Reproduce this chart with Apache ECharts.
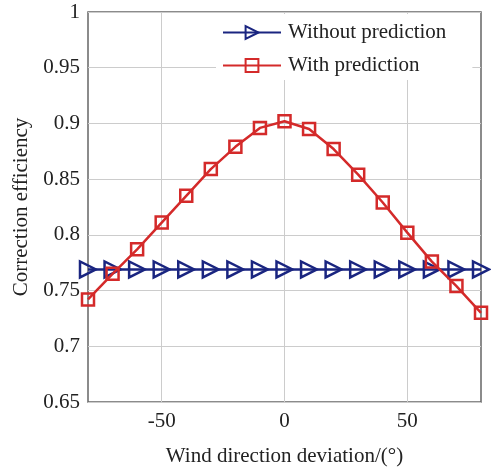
<!DOCTYPE html>
<html>
<head>
<meta charset="utf-8">
<script src="https://cdn.jsdelivr.net/npm/echarts@6/dist/echarts.min.js"></script>
<style>
  html, body { margin: 0; padding: 0; background: #fff; }
  #main { width: 491px; height: 472px; }
</style>
</head>
<body>
<div id="main"></div>
<script>
var deviation = [-80, -70, -60, -50, -40, -30, -20, -10, 0, 10, 20, 30, 40, 50, 60, 70, 80];
var withoutPred = [0.769, 0.769, 0.769, 0.769, 0.769, 0.769, 0.769, 0.769, 0.769, 0.769, 0.769, 0.769, 0.769, 0.769, 0.769, 0.769, 0.769];
var withPred = [0.742, 0.765, 0.787, 0.811, 0.835, 0.859, 0.879, 0.896, 0.902, 0.895, 0.877, 0.854, 0.829, 0.802, 0.776, 0.754, 0.730];
var xTicks = [-50, 0, 50];

var font = '"Liberation Serif", "DejaVu Serif", serif';
var blue = '#1a2580';
var red = '#d42a2a';

function pairs(ys) {
    return deviation.map(function (x, i) { return [x, ys[i]]; });
}

var chart = echarts.init(document.getElementById('main'));
var option = {
    animation: false,
    grid: {
        left: 88, right: 10, top: 12, bottom: 69,
        show: true,
        borderColor: '#666',
        borderWidth: 1.5
    },
    legend: {
        orient: 'vertical',
        left: 216,
        top: 14,
        itemWidth: 58,
        itemHeight: 16,
        itemGap: 12,
        padding: [8, 26, 4, 6],
        backgroundColor: '#fff',
        textStyle: { fontFamily: font, fontSize: 21, color: '#222', padding: [0, 0, 0, 2] },
        data: ['Without prediction', 'With prediction']
    },
    xAxis: {
        type: 'value',
        min: -80,
        max: 80,
        name: 'Wind direction deviation/(°)',
        nameLocation: 'middle',
        nameGap: 44,
        nameTextStyle: { fontFamily: font, fontSize: 21, color: '#222' },
        axisLine: { show: false },
        axisTick: { show: false, customValues: xTicks },
        axisLabel: { customValues: xTicks, fontFamily: font, fontSize: 21, color: '#222', margin: 9 },
        splitLine: { show: true, lineStyle: { color: '#ccc', width: 1 } }
    },
    yAxis: {
        type: 'value',
        min: 0.65,
        max: 1,
        interval: 0.05,
        name: 'Correction efficiency',
        nameLocation: 'middle',
        nameGap: 47,
        nameTextStyle: { fontFamily: font, fontSize: 21, color: '#222' },
        axisLine: { show: false },
        axisTick: { show: false },
        axisLabel: { fontFamily: font, fontSize: 21, color: '#222', margin: 8 },
        splitLine: { show: true, lineStyle: { color: '#ccc', width: 1 } }
    },
    series: [
        {
            name: 'Without prediction',
            type: 'line',
            data: pairs(withoutPred),
            symbol: 'triangle',
            symbolRotate: -90,
            symbolSize: 16,
            lineStyle: { color: blue, width: 2.5 },
            itemStyle: { color: 'rgba(255,255,255,0)', borderColor: blue, borderWidth: 2.5 },
            z: 3
        },
        {
            name: 'With prediction',
            type: 'line',
            data: pairs(withPred),
            symbol: 'rect',
            symbolSize: 12,
            lineStyle: { color: red, width: 2.5 },
            itemStyle: { color: 'rgba(255,255,255,0)', borderColor: red, borderWidth: 2.5 },
            z: 4
        }
    ]
};
chart.setOption(option);
</script>
</body>
</html>
